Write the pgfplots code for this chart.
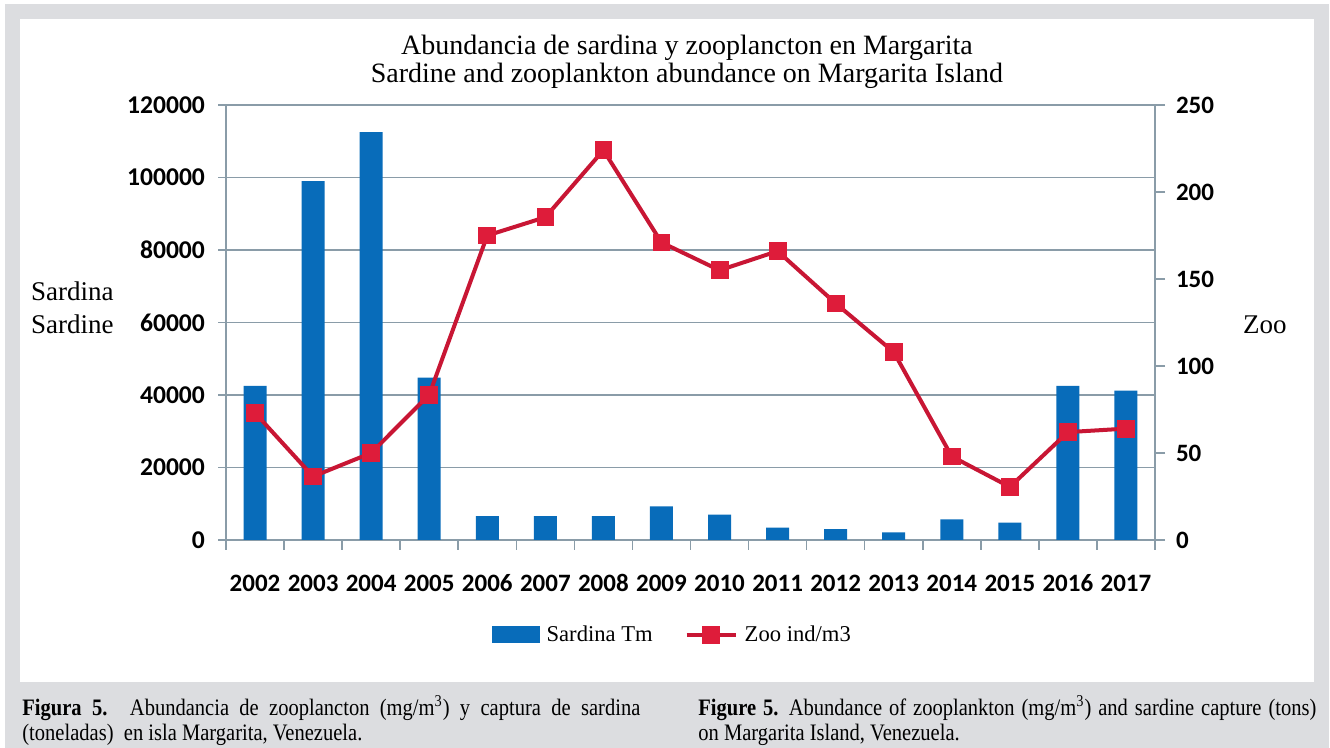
\documentclass[border=0pt]{standalone}
\usepackage{pgfplots}
\pgfplotsset{compat=1.18}
\usepackage{fontspec}
\setmainfont{Liberation Serif}
\newfontfamily\calibri{Carlito}
\newfontfamily\capfont[FakeStretch=0.87]{Liberation Serif}
\definecolor{bggray}{RGB}{220,221,224}
\definecolor{barblue}{RGB}{8,108,186}
\definecolor{zooline}{RGB}{200,22,52}
\definecolor{zoomark}{RGB}{222,28,58}
\definecolor{gridc}{RGB}{138,156,168}
\begin{document}
\begin{tikzpicture}
% background
\fill[white] (0,0) rectangle (665pt,374pt);
\fill[bggray] (2.5pt,0) rectangle (664.5pt,372pt);
\fill[white] (10pt,33pt) rectangle (657pt,364.5pt);
% title
\node[align=center,font=\fontsize{14}{14}\selectfont] at (343.5pt,343.3pt)
  {Abundancia de sardina y zooplancton en Margarita\\Sardine and zooplankton abundance on Margarita Island};
\node[anchor=west,align=left,font=\fontsize{13.5}{16.5}\selectfont] at (12pt,220pt) {Sardina\\Sardine};
\node[anchor=west,font=\fontsize{13.5}{16}\selectfont] at (618pt,211.5pt) {Zoo};
\begin{axis}[
  at={(113pt,104pt)}, anchor=south west,
  scale only axis, width=464.5pt, height=217.5pt,
  xmin=-0.5, xmax=15.5, ymin=0, ymax=120000,
  axis x line*=bottom, axis y line*=left,
  axis line style={gridc, line width=0.8pt},
  xtick={0,...,15},
  xticklabels={2002,2003,2004,2005,2006,2007,2008,2009,2010,2011,2012,2013,2014,2015,2016,2017},
  major x tick style={draw=none},
  minor xtick={-0.5,0.5,...,15.5},
  minor x tick style={gridc, line width=0.8pt},
  minor tick length=5pt,
  tick align=outside,
  scaled y ticks=false,
  ytick={0,20000,40000,60000,80000,100000,120000},
  yticklabels={0,20000,40000,60000,80000,100000,120000},
  major y tick style={gridc, line width=0.8pt},
  major tick length=4pt,
  ymajorgrids, grid style={gridc, line width=0.8pt},
  ticklabel style={font=\calibri\bfseries\fontsize{12.8}{12}\selectfont},
  xticklabel style={yshift=-9pt, text height=9pt, text depth=0pt, font=\calibri\bfseries\fontsize{12.5}{12}\selectfont},
  yticklabel style={xshift=-3pt},
]
\addplot[ybar, bar width=11.5pt, fill=barblue, draw=none] coordinates {
(0,42500) (1,99000) (2,112500) (3,44800) (4,6600) (5,6600) (6,6600) (7,9300)
(8,7000) (9,3400) (10,3000) (11,2100) (12,5700) (13,4800) (14,42500) (15,41200)};
\end{axis}
\begin{axis}[
  at={(113pt,104pt)}, anchor=south west,
  scale only axis, width=464.5pt, height=217.5pt,
  xmin=-0.5, xmax=15.5, ymin=0, ymax=250,
  axis x line=none, axis y line*=right,
  axis line style={gridc, line width=0.8pt},
  ytick={0,50,100,150,200,250},
  yticklabels={0,50,100,150,200,250},
  tick align=outside,
  major tick length=5pt,
  major y tick style={gridc, line width=0.8pt},
  ticklabel style={font=\calibri\bfseries\fontsize{12.5}{12}\selectfont},
  yticklabel style={xshift=2pt},
  legend columns=2,
  legend style={at={(0.4815,-0.218)}, anchor=center, draw=none, fill=none,
    font=\fontsize{11.3}{12}\selectfont,
    /tikz/every odd column/.append style={column sep=1.5pt},
    /tikz/every even column/.append style={column sep=14pt}},
]
\addlegendimage{legend image code/.code={\fill[barblue] (0pt,-4pt) rectangle (23.5pt,4pt);}}
\addlegendentry{Sardina Tm}
\addplot[zooline, line width=2pt, mark=square*, mark size=4.2pt,
  mark options={fill=zoomark, draw=zoomark, line width=0.4pt},
  legend image code/.code={\draw[zooline, line width=2pt, mark=square*, mark size=4.2pt,
  mark options={fill=zoomark, draw=zoomark, line width=0.4pt}, mark repeat=2, mark phase=2]
  plot coordinates {(0pt,0pt) (12.25pt,0pt) (24.5pt,0pt)};}]
coordinates {
(0,73) (1,36.5) (2,50) (3,83.5) (4,175) (5,185.5) (6,224) (7,171)
(8,155) (9,166) (10,136) (11,108) (12,48) (13,30.5) (14,62) (15,64)};
\addlegendentry{Zoo ind/m3}
\end{axis}
% captions
\node[anchor=north west, text width=309pt, align=justify, inner sep=0pt,
  font=\capfont\fontsize{11.8}{12.5}\selectfont] at (11pt,26.3pt)
  {\textbf{Figura 5.} Abundancia de zooplancton (mg/m\textsuperscript{3}) y captura de sardina\linebreak (toneladas)\ \ en isla Margarita, Venezuela.};
\node[anchor=north west, text width=309pt, align=justify, inner sep=0pt,
  font=\capfont\fontsize{11.8}{12.5}\selectfont] at (349pt,26.3pt)
  {\textbf{Figure 5.}\hspace{-1pt} Abundance of zooplankton (mg/m\textsuperscript{3}) and sardine capture (tons)\linebreak on Margarita Island, Venezuela.};
\end{tikzpicture}
\end{document}
